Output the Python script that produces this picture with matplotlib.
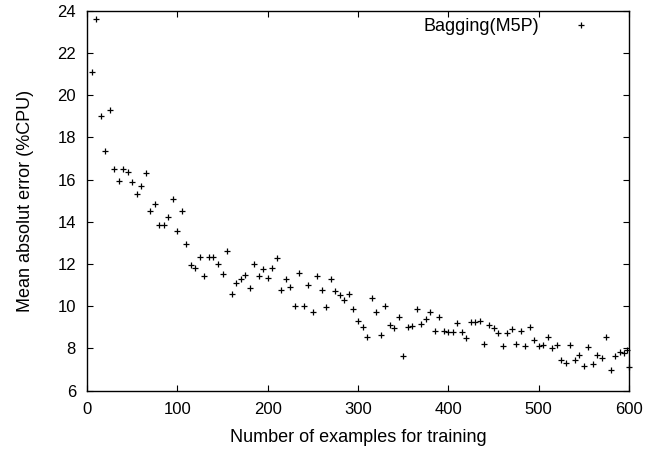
import matplotlib
matplotlib.use("Agg")
import matplotlib.pyplot as plt

# training set size (number of examples)
n_examples = [5, 10, 15, 20, 25, 30, 35, 40, 45, 50,
              55, 60, 65, 70, 75, 80, 85, 90, 95, 100,
              105, 110, 115, 120, 125, 130, 135, 140, 145, 150,
              155, 160, 165, 170, 175, 180, 185, 190, 195, 200,
              205, 210, 215, 220, 225, 230, 235, 240, 245, 250,
              255, 260, 265, 270, 275, 280, 285, 290, 295, 300,
              305, 310, 315, 320, 325, 330, 335, 340, 345, 350,
              355, 360, 365, 370, 375, 380, 385, 390, 395, 400,
              405, 410, 415, 420, 425, 430, 435, 440, 445, 450,
              455, 460, 465, 470, 475, 480, 485, 490, 495, 500,
              505, 510, 515, 520, 525, 530, 535, 540, 545, 550,
              555, 560, 565, 570, 575, 580, 585, 590, 595, 598, 600]

# mean absolute error, %CPU
mae = [21.1, 23.6, 19.0, 17.35, 19.3, 16.5, 15.93, 16.5, 16.34, 15.88,
       15.3, 15.68, 16.29, 14.51, 14.84, 13.84, 13.84, 14.24, 15.09, 13.55,
       14.51, 12.94, 11.95, 11.79, 12.31, 11.43, 12.31, 12.34, 11.98, 11.54,
       12.6, 10.59, 11.09, 11.28, 11.49, 10.87, 12.01, 11.43, 11.77, 11.36,
       11.79, 12.27, 10.76, 11.28, 10.89, 10.02, 11.58, 10.02, 11.0, 9.73,
       11.44, 10.75, 9.97, 11.28, 10.72, 10.54, 10.32, 10.59, 9.85, 9.29,
       9.04, 8.55, 10.37, 9.71, 8.63, 10.02, 9.1, 8.98, 9.48, 7.64,
       9.02, 9.07, 9.85, 9.15, 9.39, 9.73, 8.83, 9.48, 8.82, 8.76,
       8.76, 9.23, 8.79, 8.52, 9.27, 9.27, 9.3, 8.19, 9.1, 8.95,
       8.74, 8.11, 8.74, 8.91, 8.19, 8.82, 8.11, 9.02, 8.38, 8.12,
       8.16, 8.53, 8.03, 8.16, 7.45, 7.29, 8.16, 7.46, 7.7, 7.16,
       8.05, 7.26, 7.68, 7.54, 8.55, 6.97, 7.64, 7.84, 7.79, 7.95, 7.13]

plt.rcParams['font.family'] = ['Liberation Sans', 'DejaVu Sans']
plt.rcParams['font.size'] = 12

fig = plt.figure(figsize=(6.71, 4.53), dpi=100)
ax = fig.add_axes([87 / 671, 1 - 390.7 / 453, 542 / 671, 380 / 453])

ax.plot(n_examples, mae, linestyle='none', marker='+', markersize=5,
        markeredgewidth=0.9, color='black', label='Bagging(M5P)', clip_on=False)

ax.set_xlim(0, 600)
ax.set_ylim(6, 24)
ax.set_xticks(range(0, 601, 100))
ax.set_yticks(range(6, 25, 2))
ax.tick_params(direction='in', length=4, width=0.8, top=True, right=True,
               labelsize=12, pad=8)
for sp in ax.spines.values():
    sp.set_linewidth(1.0)

ax.set_xlabel('Number of examples for training', fontsize=13, labelpad=9)
ax.set_ylabel('Mean absolut error (%CPU)', fontsize=13, labelpad=16.5)

ax.legend(loc='upper right', bbox_to_anchor=(0.9845, 1 - 4 / 380),
          borderaxespad=0, borderpad=0.2, frameon=False, markerfirst=False,
          handlelength=4, handletextpad=0.3, fontsize=13, numpoints=1)

fig.savefig('out.png', dpi=100)
